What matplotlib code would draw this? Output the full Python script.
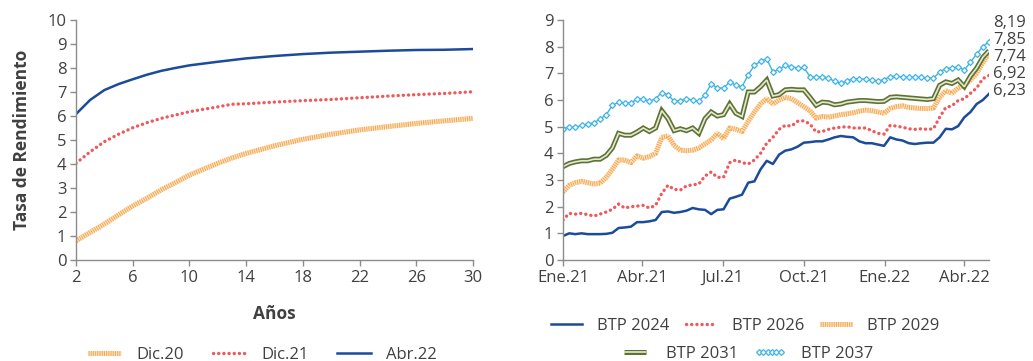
import matplotlib
matplotlib.use('Agg')
import matplotlib.pyplot as plt
from matplotlib.legend_handler import HandlerTuple
import pandas as pd

plt.rcParams['font.family'] = ['Open Sans', 'DejaVu Sans']

# ---------------- Left chart data (yield curve) ----------------
years = [2, 3, 4, 5, 6, 7, 8, 9, 10, 12, 13, 14, 16, 18, 20, 22, 24, 26, 28, 30]
dic20 = [0.80, 1.15, 1.50, 1.88, 2.25, 2.57, 2.92, 3.22, 3.54, 4.03, 4.25, 4.44, 4.76, 5.03, 5.24, 5.42, 5.56, 5.69, 5.80, 5.90]
dic21 = [4.03, 4.51, 4.93, 5.24, 5.51, 5.72, 5.90, 6.04, 6.18, 6.38, 6.49, 6.51, 6.58, 6.64, 6.69, 6.76, 6.83, 6.89, 6.94, 7.01]
abr22 = [6.08, 6.67, 7.08, 7.33, 7.53, 7.72, 7.88, 8.00, 8.11, 8.26, 8.33, 8.40, 8.50, 8.58, 8.64, 8.68, 8.72, 8.75, 8.76, 8.79]
left_labels = ['Dic.20', 'Dic.21', 'Abr.22']
left_xticks = [2, 6, 10, 14, 18, 22, 26, 30]

# ---------------- Right chart data (BTP yields, weekly) ----------------
dates = pd.date_range('2021-01-01', periods=70, freq='7D')
btp2024 = [0.90, 1.00, 0.97, 1.00, 0.97, 0.97, 0.97, 0.98, 1.02, 1.20,
           1.22, 1.25, 1.42, 1.42, 1.45, 1.50, 1.80, 1.82, 1.77, 1.80,
           1.85, 1.95, 1.90, 1.88, 1.72, 1.88, 1.90, 2.30, 2.37, 2.45,
           2.90, 2.95, 3.40, 3.72, 3.60, 3.95, 4.10, 4.15, 4.25, 4.40,
           4.42, 4.45, 4.45, 4.52, 4.60, 4.65, 4.62, 4.60, 4.45, 4.38,
           4.38, 4.33, 4.28, 4.60, 4.52, 4.48, 4.38, 4.35, 4.38, 4.40,
           4.40, 4.60, 4.92, 4.90, 5.02, 5.35, 5.55, 5.85, 6.00, 6.23]
btp2026 = [1.50, 1.75, 1.72, 1.75, 1.70, 1.65, 1.72, 1.80, 1.90, 2.10,
           1.95, 2.00, 2.02, 2.05, 1.95, 2.05, 2.50, 2.80, 2.65, 2.62,
           2.78, 2.82, 2.85, 3.15, 3.30, 3.10, 3.10, 3.65, 3.75, 3.65,
           3.60, 3.75, 4.00, 4.38, 4.60, 4.90, 5.05, 5.02, 5.20, 5.22,
           5.10, 4.80, 4.82, 4.90, 4.95, 4.98, 5.00, 4.95, 4.95, 4.95,
           4.85, 4.75, 4.72, 5.05, 5.02, 4.98, 4.92, 4.90, 4.92, 4.90,
           4.92, 5.35, 5.72, 5.78, 5.98, 6.05, 6.25, 6.45, 6.80, 6.92]
btp2029 = [2.55, 2.80, 2.90, 2.95, 2.90, 2.85, 2.88, 3.10, 3.40, 3.75,
           3.75, 3.65, 3.90, 3.82, 3.88, 4.00, 4.60, 4.65, 4.30, 4.12,
           4.10, 4.12, 4.20, 4.35, 4.50, 4.75, 4.55, 4.95, 4.90, 4.82,
           5.20, 5.55, 5.85, 6.05, 5.85, 6.00, 6.10, 6.05, 5.90, 5.75,
           5.60, 5.32, 5.38, 5.36, 5.40, 5.45, 5.48, 5.52, 5.58, 5.62,
           5.60, 5.55, 5.50, 5.68, 5.75, 5.78, 5.72, 5.70, 5.68, 5.68,
           5.70, 6.10, 6.35, 6.25, 6.45, 6.55, 6.75, 7.00, 7.40, 7.74]
btp2031 = [3.50, 3.62, 3.68, 3.72, 3.72, 3.78, 3.78, 3.92, 4.20, 4.75,
           4.68, 4.68, 4.80, 4.95, 4.82, 4.95, 5.60, 5.30, 4.85, 4.92,
           4.85, 4.95, 4.75, 5.30, 5.55, 5.40, 5.45, 5.85, 5.50, 5.38,
           6.30, 6.30, 6.50, 6.75, 6.15, 6.20, 6.38, 6.40, 6.38, 6.38,
           6.10, 5.80, 5.92, 5.90, 5.82, 5.85, 5.92, 5.95, 5.98, 5.98,
           5.96, 5.94, 5.95, 6.10, 6.12, 6.10, 6.08, 6.06, 6.04, 6.02,
           6.05, 6.55, 6.68, 6.62, 6.75, 6.50, 6.90, 7.20, 7.60, 7.85]
btp2037 = [4.92, 5.00, 4.98, 5.05, 5.10, 5.15, 5.28, 5.45, 5.80, 5.92,
           5.88, 5.90, 6.02, 6.05, 5.95, 6.05, 6.28, 6.20, 5.95, 5.98,
           6.05, 6.00, 5.95, 6.20, 6.60, 6.45, 6.45, 6.68, 6.55, 6.50,
           6.95, 7.30, 7.45, 7.55, 7.05, 7.15, 7.30, 7.25, 7.20, 7.22,
           6.88, 6.85, 6.88, 6.82, 6.70, 6.62, 6.72, 6.80, 6.80, 6.77,
           6.75, 6.72, 6.76, 6.88, 6.90, 6.86, 6.85, 6.85, 6.85, 6.83,
           6.82, 7.05, 7.18, 7.20, 7.25, 7.12, 7.42, 7.72, 8.00, 8.19]
right_labels = ['BTP 2024', 'BTP 2026', 'BTP 2029', 'BTP 2031', 'BTP 2037']
right_tick_dates = ['2021-01-01', '2021-04-01', '2021-07-01', '2021-10-01', '2022-01-01', '2022-04-01']
right_tick_labels = ['Ene.21', 'Abr.21', 'Jul.21', 'Oct.21', 'Ene.22', 'Abr.22']

# ---------------- styles ----------------
NAVY = '#1c4b9a'
RED = '#f0585a'
ORANGE = '#f6aa55'
ORANGE_LIGHT = '#fde6c8'
GREEN_DARK = '#5f7233'
GREEN_LIGHT = '#e3e9d2'
BLUE = '#3bb4e6'
TXT = '#404040'
SPINE = '#8c8c8c'
FS = 12


def orange_line(ax, x, y):
    a, = ax.plot(x, y, color=ORANGE_LIGHT, lw=3.6, solid_capstyle='butt')
    b, = ax.plot(x, y, color=ORANGE, lw=3.6, linestyle=(0, (0.22, 0.22)), dash_capstyle='butt')
    return (a, b)


def red_line(ax, x, y):
    l, = ax.plot(x, y, color=RED, lw=2.4, linestyle=(0, (0.05, 1.5)), dash_capstyle='round')
    return l


def green_line(ax, x, y):
    a, = ax.plot(x, y, color=GREEN_DARK, lw=3.6, solid_joinstyle='miter', solid_capstyle='butt')
    b, = ax.plot(x, y, color=GREEN_LIGHT, lw=1.2, solid_joinstyle='miter', solid_capstyle='butt')
    return (a, b)


def style_axes(ax):
    for s in ['top', 'right']:
        ax.spines[s].set_visible(False)
    for s in ['left', 'bottom']:
        ax.spines[s].set_color(SPINE)
        ax.spines[s].set_linewidth(1.0)
    ax.tick_params(axis='both', colors=SPINE, labelcolor=TXT, labelsize=FS,
                   direction='out', length=4, width=1.0, pad=3)


hm = {tuple: HandlerTuple(ndivide=1, pad=0)}

fig = plt.figure(figsize=(10.33, 3.61), dpi=100)

# ---------------- Left chart ----------------
axL = fig.add_axes([76 / 1033, 101 / 361, 397 / 1033, 240 / 361])
hL0 = orange_line(axL, years, dic20)
hL1 = red_line(axL, years, dic21)
hL2, = axL.plot(years, abr22, color=NAVY, lw=1.8)
axL.set_xlim(2, 30)
axL.set_ylim(0, 10)
axL.set_xticks(left_xticks)
axL.set_yticks(range(0, 11))
style_axes(axL)
axL.set_ylabel('Tasa de Rendimiento', fontsize=12.5, fontweight='bold', color=TXT, labelpad=12)
axL.set_xlabel('Años', fontsize=12.5, fontweight='bold', color=TXT, labelpad=14)

fig.legend([hL0, hL1, hL2], left_labels, loc='center', bbox_to_anchor=(262 / 1033, 6 / 361),
           ncol=3, frameon=False, fontsize=FS, handlelength=2.0, handletextpad=0.9,
           columnspacing=1.75, labelcolor=TXT, handler_map=hm)

# ---------------- Right chart ----------------
axR = fig.add_axes([563 / 1033, 101 / 361, 426 / 1033, 240 / 361])
hR0, = axR.plot(dates, btp2024, color=NAVY, lw=1.8)
hR1 = red_line(axR, dates, btp2026)
hR2 = orange_line(axR, dates, btp2029)
hR3 = green_line(axR, dates, btp2031)
hR4, = axR.plot(dates, btp2037, color=BLUE, lw=1.0, marker='D', ms=3.0,
                mfc='white', mec=BLUE, mew=0.9)
axR.set_xlim(pd.Timestamp('2021-01-01'), dates[-1])
axR.set_ylim(0, 9)
axR.set_yticks(range(0, 10))
axR.set_xticks(pd.to_datetime(right_tick_dates))
axR.set_xticklabels(right_tick_labels)
style_axes(axR)

# end-value labels, stacked at the right edge
last_vals = [btp2037[-1], btp2031[-1], btp2029[-1], btp2026[-1], btp2024[-1]]
label_y = [8.88, 8.24, 7.60, 6.96, 6.32]
for v, yy in zip(last_vals, label_y):
    axR.text(1.01, yy, f'{v:.2f}'.replace('.', ','), transform=axR.get_yaxis_transform(),
             fontsize=FS, color=TXT, ha='left', va='center', clip_on=False)

fig.legend([hR0, hR1, hR2], right_labels[:3], loc='center',
           bbox_to_anchor=(745 / 1033, 35 / 361), ncol=3, frameon=False,
           fontsize=FS, handlelength=1.9, handletextpad=0.9, columnspacing=0.95,
           labelcolor=TXT, handler_map=hm)
fig.legend([hR3, hR4], right_labels[3:], loc='center',
           bbox_to_anchor=(746 / 1033, 7 / 361), ncol=2, frameon=False,
           fontsize=FS, handlelength=1.9, handletextpad=0.9, columnspacing=0.95,
           labelcolor=TXT, handler_map=hm, numpoints=6)

fig.savefig('out.png', dpi=100)
